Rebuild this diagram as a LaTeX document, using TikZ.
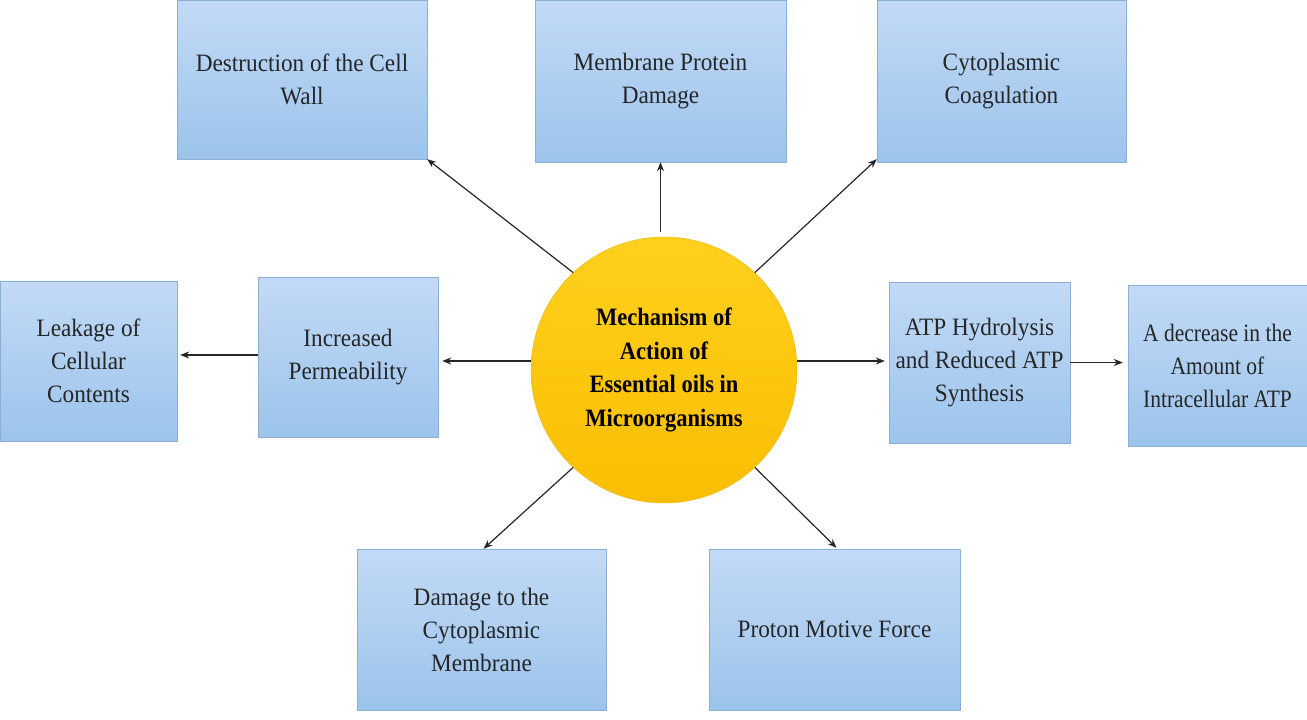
\documentclass[tikz,border=0pt]{standalone}
\usepackage{fontspec}
\setmainfont{Liberation Serif}
\usetikzlibrary{arrows.meta}
\definecolor{boxtop}{RGB}{194,218,246}
\definecolor{boxbot}{RGB}{156,196,236}
\definecolor{suntop}{RGB}{255,208,30}
\definecolor{sunbot}{RGB}{250,190,0}
\tikzset{
  pbox/.style={rectangle, top color=boxtop, bottom color=boxbot, draw=boxbot!90!black, line width=0.4pt,
    align=center, inner sep=0pt, text=black!85, font=\fontsize{25}{33}\selectfont\addfontfeature{FakeStretch=0.93}},
  link/.style={-{Stealth[length=9pt,width=7pt]}, line width=1.2pt, black!85},
}
\begin{document}
\begin{tikzpicture}[x=1pt,y=-1pt]
\useasboundingbox (0,0) rectangle (1307,720);
% center circle
\node[circle, minimum size=266pt, inner sep=0pt, top color=suntop, bottom color=sunbot, draw=sunbot!95!black, line width=0.4pt,
  align=center, font=\bfseries\fontsize{25}{33.5}\selectfont\addfontfeature{FakeStretch=0.9}]
  (c) at (664,370) {Mechanism of\\Action of\\Essential oils in\\Microorganisms};
% boxes
\node[pbox, minimum width=250pt, minimum height=159pt] (b1) at (302,79.5) {Destruction of the Cell\\Wall};
\node[pbox, minimum width=251pt, minimum height=162pt] (b2) at (660.5,81) {Membrane Protein\\Damage};
\node[pbox, minimum width=249pt, minimum height=162pt] (b3) at (1001.5,81) {Cytoplasmic\\Coagulation};
\node[pbox, minimum width=177pt, minimum height=160pt] (b4) at (88.5,361) {Leakage of\\Cellular\\Contents};
\node[pbox, minimum width=180pt, minimum height=160pt] (b5) at (348,357) {Increased\\Permeability};
\node[pbox, minimum width=181pt, minimum height=161pt] (b6) at (979.5,362.5) {ATP Hydrolysis\\and Reduced ATP\\Synthesis};
\node[pbox, minimum width=179pt, minimum height=161pt, font=\fontsize{25}{33}\selectfont\addfontfeature{FakeStretch=0.86}] (b7) at (1217.5,365.5) {A decrease in the\\Amount of\\Intracellular ATP};
\node[pbox, minimum width=249pt, minimum height=161pt] (b8) at (481.5,629.5) {Damage to the\\Cytoplasmic\\Membrane};
\node[pbox, minimum width=251pt, minimum height=161pt] (b9) at (834.5,629.5) {Proton Motive Force};
% connectors
\draw[link] (c.133) -- (b1.south east);
\draw[link, shorten <=5pt] (b2.south |- c.north) -- (b2.south);
\draw[link] (c.47.5) -- ([yshift=3pt]b3.south west);
\draw[link, shorten >=4pt] ([yshift=9pt]c.west) -- ([yshift=9pt]c.west -| b5.east);
\draw[link, shorten >=3pt] ([yshift=2pt]b5.west) -- ([yshift=2pt]b5.west -| b4.east);
\draw[link, shorten >=4pt] ([yshift=9pt]c.east) -- ([yshift=9pt]c.east -| b6.west);
\draw[link, shorten >=5pt] (b6.east) -- (b6.east -| b7.west);
\draw[link] (c.-133.5) -- ([xshift=2pt]b8.north);
\draw[link] (c.-47) -- ([xshift=2pt,yshift=1pt]b9.north);
\end{tikzpicture}
\end{document}
